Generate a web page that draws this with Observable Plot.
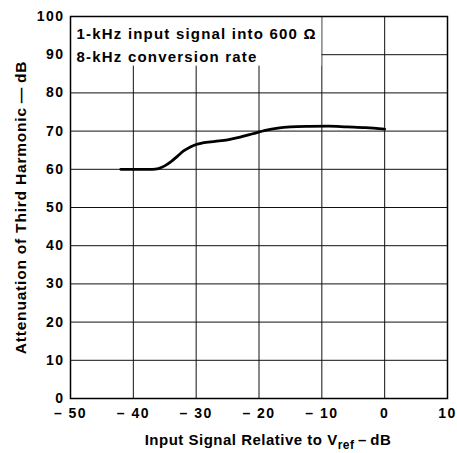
<!DOCTYPE html>
<html>
<head>
<meta charset="utf-8">
<script src="https://cdn.jsdelivr.net/npm/d3@7"></script>
<script src="https://cdn.jsdelivr.net/npm/@observablehq/plot@0.6"></script>
<style>
  html, body { margin: 0; padding: 0; background: #fff; }
  #chart svg { font-family: "Liberation Sans", Arial, Helvetica, sans-serif; }
  #chart svg g[aria-label="x-axis tick label"] text,
  #chart svg g[aria-label="y-axis tick label"] text { font-size: 14px; font-weight: bold; letter-spacing: 1.5px; }
  #chart svg g[aria-label="y-axis label"] text { font-size: 15.5px; font-weight: bold; letter-spacing: 0.8px; }
</style>
</head>
<body>
<div id="chart"></div>
<script>
// Data
const inputDb = [-42, -37, -36, -35, -34, -33, -32, -31, -30, -29, -27, -25, -23, -21, -19, -17, -15, -12, -9, -6, -3, 0];
const attenDb = [60, 60, 60.2, 60.9, 62.0, 63.4, 64.8, 65.8, 66.5, 66.9, 67.3, 67.7, 68.4, 69.3, 70.2, 70.8, 71.1, 71.25, 71.3, 71.1, 70.9, 70.5];
const xTicks = [-50, -40, -30, -20, -10, 0, 10];
const yTicks = [0, 10, 20, 30, 40, 50, 60, 70, 80, 90, 100];
const noteLines = ["1-kHz input signal into 600 \u03A9", "8-kHz conversion rate"];
const noteBox = [{x1: -50, x2: -10, y1: 87, y2: 100}];
const yLabel = "Attenuation of Third Harmonic\u2009\u2014\u2009dB";

const series = inputDb.map((x, i) => ({x, y: attenDb[i]}));
const fmtX = d => d < 0 ? "\u2013 " + Math.abs(d) : String(d);

const chart = Plot.plot({
  width: 457,
  height: 453,
  marginLeft: 70,
  marginRight: 10,
  marginTop: 16,
  marginBottom: 55,
  x: {domain: [-50, 10]},
  y: {domain: [0, 100]},
  marks: [
    Plot.gridX(xTicks, {stroke: "#111", strokeOpacity: 1, strokeWidth: 1}),
    Plot.gridY(yTicks, {stroke: "#111", strokeOpacity: 1, strokeWidth: 1}),
    Plot.rect(noteBox, {x1: "x1", x2: "x2", y1: "y1", y2: "y2", fill: "white"}),
    Plot.line(series, {x: "x", y: "y", stroke: "#000", strokeWidth: 2.8, curve: "monotone-x"}),
    Plot.frame({stroke: "#000", strokeWidth: 1.5}),
    Plot.text([noteLines.join("\n")], {
      frameAnchor: "top-left", dx: 6, dy: 6, lineHeight: 1.53,
      fontSize: 15, fontWeight: "bold", fill: "#000",
      style: {letterSpacing: "1.2px"}
    }),
    Plot.axisX({ticks: xTicks, tickSize: 0, tickPadding: 10, tickFormat: fmtX, label: null}),
    Plot.axisY({ticks: yTicks, tickSize: 0, tickPadding: 6, label: yLabel, labelAnchor: "center", labelArrow: "none", labelOffset: 56})
  ]
});

document.getElementById("chart").appendChild(chart);
d3.select(chart).selectAll('g[aria-label="text"] text').attr("letter-spacing", "1.2px");

// x-axis title with subscript
const svg = d3.select(chart);
const t = svg.append("text")
  .attr("x", 268).attr("y", 445)
  .attr("text-anchor", "middle")
  .attr("font-size", 15).attr("font-weight", "bold")
  .attr("letter-spacing", "0.5px")
  .attr("fill", "#000");
t.append("tspan").text("Input Signal Relative to V");
t.append("tspan").attr("font-size", 12).attr("dy", 4).text("ref");
t.append("tspan").attr("dy", -4).text("\u2009\u2013\u2009dB");
</script>
</body>
</html>
